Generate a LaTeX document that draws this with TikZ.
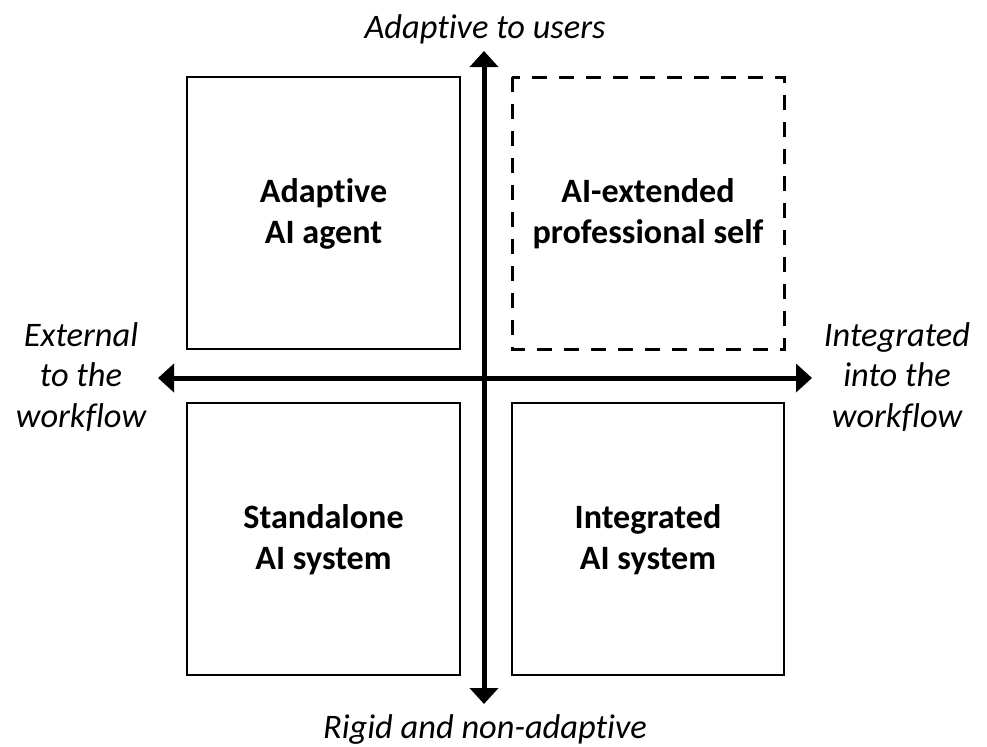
\documentclass[tikz,border=0pt]{standalone}
\usepackage{fontspec}
\setmainfont{Carlito}[Ligatures=NoCommon]
\usetikzlibrary{arrows.meta}
\begin{document}
\begin{tikzpicture}[x=0.75pt,y=-0.75pt,
  quad/.style={draw=black,line width=1.5pt,fill=white},
  dquad/.style={quad,line width=2.25pt,dash pattern=on 11.25pt off 9pt},
  axis/.style={line width=3.75pt,-{Triangle[length=12pt,width=21pt]}},
  boxtext/.style={font=\fontsize{25.6}{30.5}\selectfont\bfseries,align=center},
  axtext/.style={font=\fontsize{25.8}{30.5}\selectfont\itshape,align=center}]
\useasboundingbox (0,0) rectangle (987,746);
\draw[quad] (187,77) rectangle (460,349);
\draw[dquad] (512,77) rectangle (784,349);
\draw[quad] (187,403) rectangle (460,675);
\draw[quad] (512,403) rectangle (784,675);
\node[boxtext] (tl) at (323.5,214) {Adaptive\\AI agent};
\node[boxtext] (tr) at (648,214) {AI-extended\\professional self};
\node[boxtext] (bl) at (323.5,540) {Standalone\\AI system};
\node[boxtext] (br) at (648,540) {Integrated\\AI system};
\coordinate (c) at (484,378);
\coordinate (top) at (484,51);
\coordinate (bot) at (484,704);
\coordinate (lft) at (158,378);
\coordinate (rgt) at (812,378);
\draw[axis] (c) -- (top);
\draw[axis] (c) -- (bot);
\draw[axis] (c) -- (lft);
\draw[axis] (c) -- (rgt);
\node[axtext,anchor=base] (lt) at (485,38) {Adaptive to users};
\node[axtext,anchor=base] (lb) at (485,738) {Rigid and non-adaptive};
\node[axtext] (ll) at (81,377) {External\\to the\\workflow};
\node[axtext] (lr) at (897,377) {Integrated\\into the\\workflow};
\end{tikzpicture}
\end{document}
